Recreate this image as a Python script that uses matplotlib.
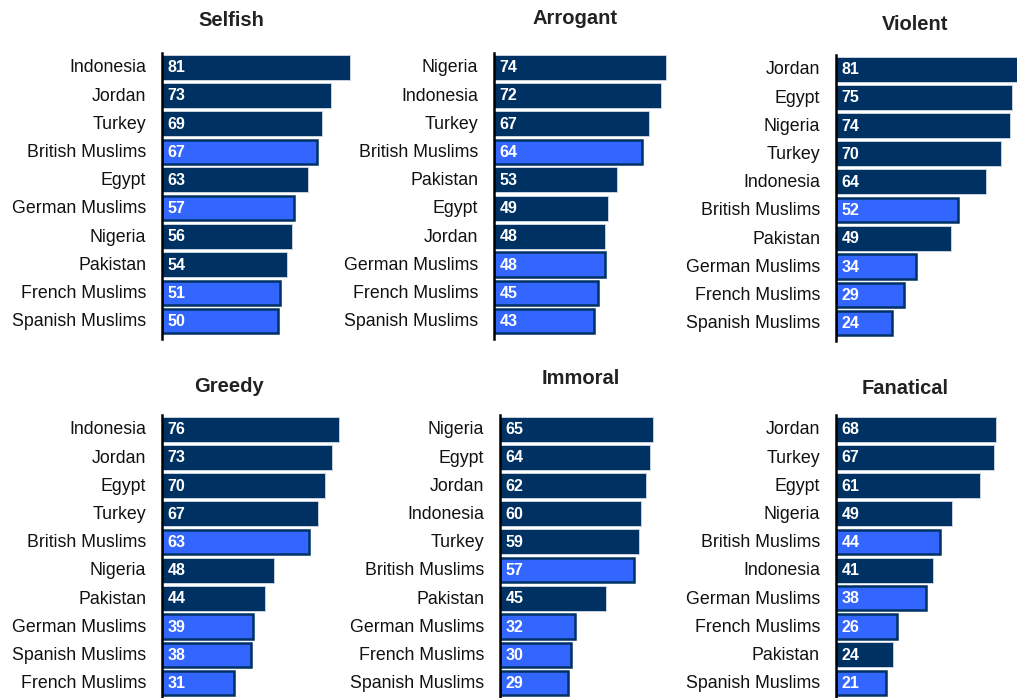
import matplotlib
matplotlib.use("Agg")
import matplotlib.pyplot as plt

plt.rcParams["font.family"] = ["Liberation Sans", "DejaVu Sans"]

# data
selfish_names = ["Indonesia", "Jordan", "Turkey", "British Muslims", "Egypt",
                 "German Muslims", "Nigeria", "Pakistan", "French Muslims", "Spanish Muslims"]
selfish_values = [81, 73, 69, 67, 63, 57, 56, 54, 51, 50]

arrogant_names = ["Nigeria", "Indonesia", "Turkey", "British Muslims", "Pakistan",
                  "Egypt", "Jordan", "German Muslims", "French Muslims", "Spanish Muslims"]
arrogant_values = [74, 72, 67, 64, 53, 49, 48, 48, 45, 43]

violent_names = ["Jordan", "Egypt", "Nigeria", "Turkey", "Indonesia",
                 "British Muslims", "Pakistan", "German Muslims", "French Muslims", "Spanish Muslims"]
violent_values = [81, 75, 74, 70, 64, 52, 49, 34, 29, 24]

greedy_names = ["Indonesia", "Jordan", "Egypt", "Turkey", "British Muslims",
                "Nigeria", "Pakistan", "German Muslims", "Spanish Muslims", "French Muslims"]
greedy_values = [76, 73, 70, 67, 63, 48, 44, 39, 38, 31]

immoral_names = ["Nigeria", "Egypt", "Jordan", "Indonesia", "Turkey",
                 "British Muslims", "Pakistan", "German Muslims", "French Muslims", "Spanish Muslims"]
immoral_values = [65, 64, 62, 60, 59, 57, 45, 32, 30, 29]

fanatical_names = ["Jordan", "Turkey", "Egypt", "Nigeria", "British Muslims",
                   "Indonesia", "German Muslims", "French Muslims", "Pakistan", "Spanish Muslims"]
fanatical_values = [68, 67, 61, 49, 44, 41, 38, 26, 24, 21]

panels = [
    ("Selfish", selfish_names, selfish_values),
    ("Arrogant", arrogant_names, arrogant_values),
    ("Violent", violent_names, violent_values),
    ("Greedy", greedy_names, greedy_values),
    ("Immoral", immoral_names, immoral_values),
    ("Fanatical", fanatical_names, fanatical_values),
]

# layout in pixels: spine x, top of first row, title centre x, title y, px per unit
layout = [
    (162, 53, 231, 20, 2.32),
    (494, 53, 575, 19, 2.32),
    (836, 55, 915, 25, 2.35),
    (162, 415, 229, 386, 2.33),
    (500, 415, 581, 378, 2.35),
    (836, 415, 905, 388, 2.36),
]

W, H = 1017, 698
ROW = 28.2
NAVY = "#003163"
BLUE = "#3366FF"

fig = plt.figure(figsize=(W / 100, H / 100), dpi=100)

for (title, names, values), (x0, y0, tx, ty, scale) in zip(panels, layout):
    n = len(names)
    width_px = 240
    height_px = n * ROW
    ax = fig.add_axes([x0 / W, (H - y0 - height_px - 4) / H, width_px / W, (height_px + 4) / H])
    ax.set_xlim(0, width_px / scale)
    ax.set_ylim(n - 0.5 + 4 / ROW, -0.5)

    for i, (name, v) in enumerate(zip(names, values)):
        muslim = name.endswith("Muslims")
        if muslim:
            ax.barh(i, v, height=0.86, color=BLUE, edgecolor=NAVY, linewidth=1.8, zorder=2)
        else:
            ax.barh(i, v, height=0.88, color=NAVY, edgecolor="#c9d2de", linewidth=0.7, zorder=2)
        ax.text(2.4, i + 0.02, str(v), color="white", fontsize=11.5, fontweight="bold",
                va="center", ha="left", zorder=3)
        ax.text(-6.8, i + 0.03, name, fontsize=12.8, va="center", ha="right", color="#111111")

    for s in ["top", "right", "bottom"]:
        ax.spines[s].set_visible(False)
    ax.spines["left"].set_linewidth(1.8)
    ax.spines["left"].set_color("black")
    ax.set_xticks([])
    ax.set_yticks([])

    fig.text(tx / W, 1 - ty / H, title, fontsize=14.5, fontweight="bold",
             ha="center", va="center", color="#222222")

fig.savefig("out.png", dpi=100)
